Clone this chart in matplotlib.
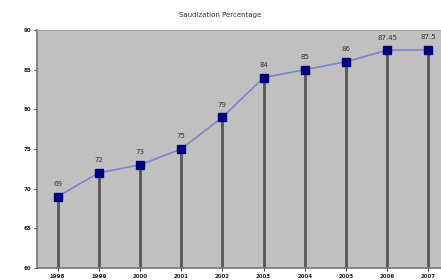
import matplotlib.pyplot as plt
import numpy as np

years = ['1998', '1999', '2000', '2001', '2002', '2003', '2004', '2005', '2006', '2007']
pct = [69, 72, 73, 75, 79, 84, 85, 86, 87.45, 87.5]
labels = ['69', '72', '73', '75', '79', '84', '85', '86', '87.45', '87.5']

fig = plt.figure(figsize=(4.41, 2.8), dpi=100)
fig.patch.set_facecolor('white')
# plot area runs off the right edge like the original
ax = fig.add_axes([37 / 441, 12 / 280, 412 / 441, 238 / 280])
ax.set_facecolor('#c0c0c0')

x = np.arange(len(years))
ax.vlines(x, 60, pct, color='#555555', linewidth=2, zorder=2)
ax.plot(x, pct, color='#8080d0', linewidth=1.2, zorder=3)
ax.plot(x, pct, 's', color='#00007f', markersize=6, zorder=4)

for xi, v, s in zip(x, pct, labels):
    ax.text(xi, v + 1.2, s, ha='center', va='bottom', fontsize=5, color='#333333')

ax.set_xlim(-0.5, 9.5)
ax.set_ylim(60, 90)
ax.set_yticks(range(60, 91, 5))
ax.set_yticklabels([str(t) for t in range(60, 91, 5)], fontsize=4, fontweight='bold')
ax.set_xticks(x)
ax.set_xticklabels(years, fontsize=4, fontweight='bold')
ax.tick_params(length=2, width=0.6, pad=2, colors='#222222')

for sp in ['left', 'bottom']:
    ax.spines[sp].set_color('#777777')
    ax.spines[sp].set_linewidth(1.2)
for sp in ['top', 'right']:
    ax.spines[sp].set_color('#999999')
    ax.spines[sp].set_linewidth(0.6)

fig.text(0.5, 1 - 15 / 280, 'Saudization Percentage', ha='center', va='center', fontsize=5, color='#333333')

fig.savefig('out.png', dpi=100)
